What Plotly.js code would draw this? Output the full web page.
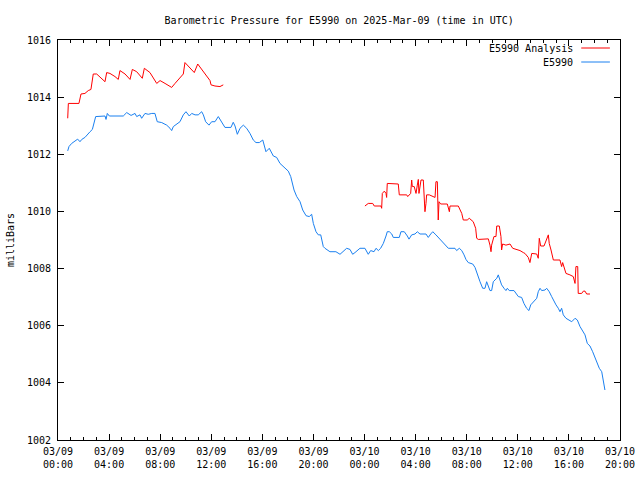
<!DOCTYPE html>
<html>
<head>
<meta charset="utf-8">
<script src="https://cdn.plot.ly/plotly-3.0.1.min.js"></script>
<style>html,body{margin:0;padding:0;background:#fff;}#chart{width:640px;height:480px;}</style>
</head>
<body>
<div id="chart"></div>
<script>
// Hours since 2025-03-09 00:00 UTC
const blueHours = [0.76,0.86,1.07,1.33,1.54,1.72,1.86,2.11,2.25,2.51,2.69,2.95,3.68,3.76,3.86,4.02,5.11,5.38,5.72,6.03,6.16,6.42,6.55,6.81,7.07,7.34,7.59,7.77,8.12,8.51,8.77,8.90,9.03,9.21,9.55,9.81,10.02,10.28,10.47,10.73,10.98,11.25,11.38,11.56,11.82,12.03,12.29,12.55,12.82,13.07,13.54,13.72,13.86,14.04,14.25,14.51,14.77,15.03,15.29,15.50,15.76,16.03,16.28,16.54,16.86,17.12,17.38,17.77,18.03,18.22,18.48,18.69,18.95,19.16,19.42,19.67,19.86,19.99,20.20,20.38,20.57,20.77,20.90,21.29,21.76,22.08,22.34,22.60,22.86,23.07,23.25,23.51,23.64,24.03,24.17,24.29,24.48,24.74,24.90,25.08,25.26,25.47,25.68,25.78,25.94,26.13,26.25,26.72,26.85,27.11,27.35,27.48,27.69,27.95,28.13,28.34,28.81,28.99,29.18,29.34,29.59,29.77,30.04,30.30,30.56,31.08,31.21,31.42,31.61,31.79,31.94,32.12,32.47,32.65,32.83,33.04,33.25,33.43,33.56,33.69,33.82,33.95,34.08,34.35,34.47,34.60,34.73,34.92,35.07,35.18,35.33,35.70,35.91,36.04,36.30,36.48,36.69,36.87,37.01,37.27,37.48,37.60,37.74,37.87,38.13,38.26,38.46,38.65,38.78,38.99,39.17,39.30,39.43,39.56,39.77,39.95,40.22,40.48,40.66,40.87,41.05,41.26,41.44,41.65,41.86,42.04,42.17,42.38,42.57,42.69,42.82];
const bluePressure = [1012.12,1012.27,1012.38,1012.48,1012.53,1012.44,1012.52,1012.59,1012.67,1012.79,1012.87,1013.32,1013.34,1013.22,1013.43,1013.34,1013.34,1013.46,1013.36,1013.43,1013.32,1013.38,1013.26,1013.43,1013.40,1013.43,1013.43,1013.14,1013.11,1013.02,1012.91,1012.83,1012.97,1013.02,1013.14,1013.38,1013.49,1013.34,1013.43,1013.38,1013.38,1013.49,1013.38,1013.14,1013.02,1013.14,1013.14,1013.32,1013.14,1012.94,1012.94,1013.12,1012.99,1012.70,1012.91,1013.02,1012.91,1012.73,1012.50,1012.41,1012.41,1012.50,1012.09,1012.21,1011.94,1011.89,1011.68,1011.53,1011.41,1011.22,1010.75,1010.52,1010.34,1010.05,1009.85,1009.82,1009.90,1009.58,1009.29,1009.18,1009.18,1008.77,1008.71,1008.59,1008.59,1008.50,1008.59,1008.71,1008.67,1008.50,1008.56,1008.67,1008.71,1008.71,1008.56,1008.50,1008.63,1008.59,1008.71,1008.63,1008.71,1008.88,1009.14,1009.29,1009.29,1009.21,1009.09,1009.09,1009.29,1009.29,1009.14,1009.03,1009.18,1009.21,1009.29,1009.21,1009.21,1009.09,1009.21,1009.29,1009.18,1009.09,1008.94,1008.82,1008.71,1008.71,1008.63,1008.71,1008.63,1008.48,1008.32,1008.21,1008.16,1008.04,1007.78,1007.54,1007.31,1007.31,1007.54,1007.37,1007.23,1007.23,1007.54,1007.66,1007.78,1007.60,1007.43,1007.31,1007.23,1007.31,1007.23,1007.23,1007.08,1007.02,1006.99,1006.78,1006.61,1006.53,1006.73,1006.84,1006.96,1007.19,1007.31,1007.23,1007.25,1007.31,1007.19,1007.02,1006.90,1006.73,1006.61,1006.49,1006.61,1006.38,1006.26,1006.20,1006.14,1006.26,1006.20,1005.97,1005.85,1005.68,1005.38,1005.29,1005.09,1004.89,1004.68,1004.51,1004.39,1004.10,1003.75];

const redHours1 = [0.76,0.81,1.64,1.80,2.11,2.37,2.58,2.69,2.76,3.03,3.42,3.68,3.81,4.07,4.46,4.72,4.85,5.25,5.64,5.82,6.16,6.60,6.76,7.20,7.73,7.99,8.38,8.90,9.16,9.81,9.94,10.33,10.67,10.94,11.25,11.64,11.90,11.98,12.29,12.68,12.94];
const redPressure1 = [1013.26,1013.78,1013.78,1014.11,1014.13,1014.23,1014.27,1014.58,1014.81,1014.81,1014.66,1014.54,1014.86,1014.83,1014.72,1014.62,1014.93,1014.81,1014.62,1014.97,1014.89,1014.66,1015.01,1014.86,1014.48,1014.58,1014.48,1014.34,1014.48,1014.81,1015.21,1015.04,1014.86,1015.16,1014.97,1014.74,1014.58,1014.43,1014.39,1014.37,1014.43];
const redHours2 = [24.03,24.29,24.64,24.76,25.29,25.34,25.39,25.55,25.68,25.73,25.78,26.25,26.64,26.72,27.30,27.38,27.50,27.61,27.69,27.74,27.89,28.03,28.13,28.21,28.26,28.34,28.42,28.60,28.73,28.81,28.86,29.07,29.52,29.59,29.70,29.77,29.83,29.96,30.48,30.64,30.69,31.34,31.47,31.61,31.73,32.04,32.20,32.51,32.70,32.78,32.91,33.69,33.82,33.90,33.95,34.13,34.29,34.35,34.55,34.68,34.73,34.81,35.07,35.39,35.60,36.17,36.43,36.56,36.82,36.95,37.09,37.48,37.60,37.68,37.79,38.05,38.39,38.46,38.60,38.78,39.30,39.43,39.51,39.69,39.77,40.08,40.34,40.48,40.55,40.69,40.73,41.00,41.13,41.26,41.39,41.65];
const redPressure2 = [1010.19,1010.28,1010.28,1010.19,1010.19,1010.11,1010.63,1010.71,1010.63,1010.49,1010.98,1010.98,1010.96,1010.58,1010.58,1010.52,1010.58,1010.63,1011.10,1010.87,1010.87,1010.63,1010.92,1011.12,1010.63,1010.92,1011.10,1011.10,1009.99,1010.28,1010.58,1010.58,1010.49,1011.04,1011.04,1009.70,1010.34,1010.26,1010.26,1009.99,1010.19,1010.19,1010.08,1009.93,1009.70,1009.70,1009.76,1009.64,1009.41,1009.06,1009.02,1009.04,1008.82,1008.59,1008.82,1009.12,1009.12,1009.49,1009.49,1009.12,1008.65,1008.86,1008.82,1008.86,1008.71,1008.63,1008.56,1008.53,1008.39,1008.21,1008.53,1008.51,1008.36,1009.06,1008.79,1008.79,1009.18,1008.88,1008.65,1008.30,1008.30,1008.07,1008.21,1007.97,1007.83,1007.78,1007.72,1007.48,1008.07,1008.07,1007.13,1007.13,1007.21,1007.21,1007.11,1007.11];

const seriesNames = ["E5990 Analysis", "E5990"];
const titleText = "Barometric Pressure for E5990 on 2025-Mar-09 (time in UTC)";
const yTitle = "milliBars";

const START = Date.UTC(2025, 2, 9, 0, 0, 0);
function toDate(h) {
  return new Date(START + Math.round(h * 3600000)).toISOString().slice(0, 19).replace('T', ' ');
}

const redX = redHours1.map(toDate).concat([toDate((redHours1[redHours1.length-1] + redHours2[0]) / 2)], redHours2.map(toDate));
const redY = redPressure1.concat([null], redPressure2);
const blueX = blueHours.map(toDate);

const font = {family: "DejaVu Sans Mono, monospace", size: 10, color: "#000"};
const RED = "#ff0000", BLUE = "#1a80f0";

const data = [
  {x: redX, y: redY, type: "scatter", mode: "lines", name: seriesNames[0], connectgaps: false,
   line: {color: RED, width: 1}, showlegend: false},
  {x: blueX, y: bluePressure, type: "scatter", mode: "lines", name: seriesNames[1],
   line: {color: BLUE, width: 1}, showlegend: false}
];

const layout = {
  width: 640, height: 480,
  margin: {l: 58, r: 20, t: 40, b: 40},
  paper_bgcolor: "#fff", plot_bgcolor: "#fff",
  font: font,
  title: {text: titleText, font: font, x: 0.53, xanchor: "center", y: 0.958, yanchor: "middle"},
  xaxis: {
    type: "date",
    range: ["2025-03-09 00:00:00", "2025-03-10 20:00:00"],
    dtick: 4 * 3600000, tick0: "2025-03-09 00:00:00",
    tickformat: "%m/%d<br>%H:%M",
    ticks: "inside", ticklen: 6, tickcolor: "#000", tickwidth: 1,
    ticklabelstandoff: 2,
    minor: {dtick: 3600000, ticks: "inside", ticklen: 3, tickcolor: "#000", showgrid: false},
    showline: true, linecolor: "#000", linewidth: 1, mirror: "allticks",
    showgrid: false, zeroline: false, tickfont: font
  },
  yaxis: {
    range: [1002, 1016], dtick: 2, tick0: 1002,
    ticks: "inside", ticklen: 6, tickcolor: "#000", tickwidth: 1,
    ticklabelstandoff: 4,
    showline: true, linecolor: "#000", linewidth: 1, mirror: "allticks",
    showgrid: false, zeroline: false, tickfont: font,
    title: {text: yTitle, font: font, standoff: 10}
  },
  annotations: [
    {xref: "paper", yref: "paper", x: 0.920, y: 0.978, xanchor: "right", yanchor: "middle",
     text: seriesNames[0], showarrow: false, font: font},
    {xref: "paper", yref: "paper", x: 0.920, y: 0.943, xanchor: "right", yanchor: "middle",
     text: seriesNames[1], showarrow: false, font: font}
  ],
  shapes: [
    {type: "line", xref: "paper", yref: "paper", x0: 0.931, x1: 0.982, y0: 0.98, y1: 0.98,
     line: {color: RED, width: 1}},
    {type: "line", xref: "paper", yref: "paper", x0: 0.931, x1: 0.982, y0: 0.945, y1: 0.945,
     line: {color: BLUE, width: 1}}
  ]
};

Plotly.newPlot("chart", data, layout, {displayModeBar: false, staticPlot: true});
</script>
</body>
</html>
